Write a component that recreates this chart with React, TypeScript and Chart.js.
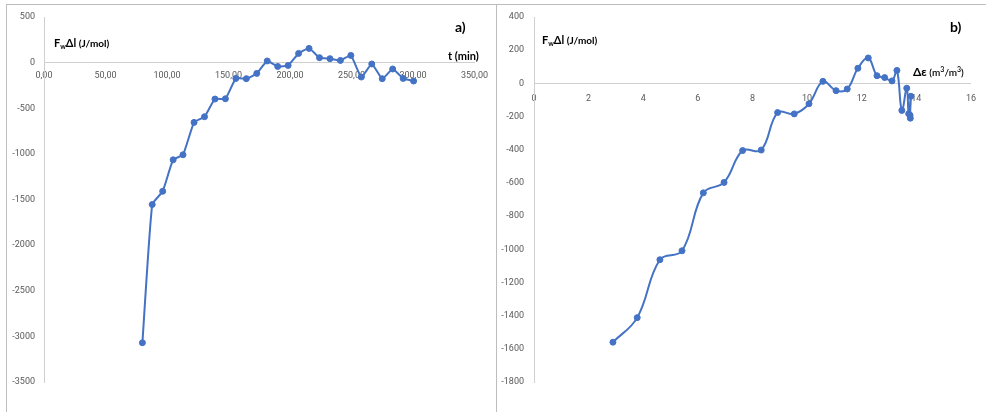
import React, { useEffect, useRef } from "react";
import { Chart, registerables } from "chart.js";
Chart.register(...registerables);

// Chart a): F_wΔl versus time (min)
const timeMin = [80, 88, 96.5, 105, 113, 122, 130.5, 139, 147.5, 156, 164.5, 173, 181.5, 190, 198.5, 207, 215.5, 224, 232.5, 241, 249.5, 258, 266.5, 275, 283.5, 292, 300.5];
const fwDlA = [-3070, -1555, -1410, -1065, -1010, -655, -593, -399, -396, -173, -176, -118, 18, -42, -31, 101, 156, 54, 43, 24, 79, -158, -15, -176, -70, -173, -202];

// Chart b): F_wΔl versus Δε (m3/m3)
const deltaEps = [2.89, 3.78, 4.61, 5.42, 6.2, 6.96, 7.64, 8.32, 8.92, 9.53, 10.07, 10.58, 11.06, 11.47, 11.86, 12.24, 12.56, 12.84, 13.11, 13.29, 13.47, 13.65, 13.72, 13.8, 13.77, 13.78];
const fwDlB = [-1560, -1412, -1063, -1009, -660, -597, -405, -402, -176, -184, -123, 12, -44, -34, 91, 153, 46, 35, 15, 78, -163, -29, -183, -78, -192, -210];

const xTicksA = { min: 0, max: 350, step: 50 };
const yTicksA = { min: -3500, max: 500, step: 500 };
const xTicksB = { min: 0, max: 16, step: 2 };
const yTicksB = { min: -1800, max: 400, step: 200 };

const BLUE = "#4472C4";
const TICK_COLOR = "#595959";
const AXIS_COLOR = "#cfcfcf";
const tickFont = { family: "Roboto", size: 9 };

function makeChart(
  canvas: HTMLCanvasElement,
  xs: number[],
  ys: number[],
  xT: { min: number; max: number; step: number },
  yT: { min: number; max: number; step: number },
  opts: { yWidth: number; yPad: number; xPad: number; right: number; tension: number; fmt: (v: number) => string }
) {
  return new Chart(canvas, {
    type: "line",
    data: {
      datasets: [
        {
          data: xs.map((x, i) => ({ x, y: ys[i] })),
          borderColor: BLUE,
          backgroundColor: BLUE,
          borderWidth: 2,
          pointRadius: 3,
          pointBorderWidth: 1,
          pointBackgroundColor: BLUE,
          pointBorderColor: BLUE,
          tension: opts.tension,
          fill: false,
        },
      ],
    },
    options: {
      animation: false,
      responsive: false,
      maintainAspectRatio: false,
      layout: { padding: { top: 17, bottom: 30, left: 0, right: opts.right } },
      plugins: { legend: { display: false }, tooltip: { enabled: false } },
      scales: {
        x: {
          type: "linear",
          min: xT.min,
          max: xT.max,
          position: { y: 0 },
          grid: { display: false, drawTicks: false },
          border: { display: true, color: AXIS_COLOR, width: 1 },
          ticks: {
            stepSize: xT.step,
            padding: opts.xPad,
            font: tickFont,
            color: TICK_COLOR,
            maxRotation: 0,
            autoSkip: false,
            callback: (v: any) => opts.fmt(Number(v)),
          },
        },
        y: {
          type: "linear",
          min: yT.min,
          max: yT.max,
          grid: { display: false, drawTicks: false },
          border: { display: true, color: AXIS_COLOR, width: 1 },
          ticks: {
            stepSize: yT.step,
            padding: opts.yPad,
            font: tickFont,
            color: TICK_COLOR,
            autoSkip: false,
            callback: (v: any) => String(Math.round(Number(v))),
          },
          afterFit: (s: any) => {
            s.width = opts.yWidth;
          },
        },
      },
    },
  } as any);
}

const boldLbl: React.CSSProperties = {
  position: "absolute",
  fontFamily: "Lato, 'Open Sans', sans-serif",
  fontWeight: 700,
  color: "#000",
  whiteSpace: "nowrap",
  lineHeight: 1,
  transform: "translateY(-50%)",
};

export default function App() {
  const refA = useRef<HTMLCanvasElement>(null);
  const refB = useRef<HTMLCanvasElement>(null);

  useEffect(() => {
    const a = makeChart(refA.current!, timeMin, fwDlA, xTicksA, yTicksA, {
      yWidth: 44,
      yPad: 9,
      xPad: 8,
      right: 20,
      tension: 0.15,
      fmt: (v) => v.toFixed(2).replace(".", ","),
    });
    const b = makeChart(refB.current!, deltaEps, fwDlB, xTicksB, yTicksB, {
      yWidth: 36,
      yPad: 10,
      xPad: 10,
      right: 11,
      tension: 0.4,
      fmt: (v) => String(v),
    });
    return () => {
      a.destroy();
      b.destroy();
    };
  }, []);

  return (
    <div style={{ position: "fixed", left: 0, top: 0, width: 986, height: 412, overflow: "hidden", background: "#fff" }}>
      <div style={{ position: "absolute", left: 6, top: 4, width: 1000, height: 430, border: "1px solid #bdbdbd" }} />
      <div style={{ position: "absolute", left: 496, top: 4, width: 1, height: 430, background: "#bdbdbd" }} />
      <canvas ref={refA} width={496} height={412} style={{ position: "absolute", left: 0, top: 0, width: 496, height: 412 }} />
      <canvas ref={refB} width={488} height={412} style={{ position: "absolute", left: 498, top: 0, width: 488, height: 412 }} />

      <div style={{ ...boldLbl, left: 54, top: 43, fontSize: 11 }}>
        F<sub style={{ fontSize: 7, verticalAlign: "-2px" }}>w</sub>Δl<span style={{ fontSize: 10 }}> (J/mol)</span>
      </div>
      <div style={{ ...boldLbl, left: 455, top: 27, fontSize: 14 }}>a)</div>
      <div style={{ ...boldLbl, left: 448, top: 55, fontSize: 11 }}>t (min)</div>

      <div style={{ ...boldLbl, left: 542, top: 40, fontSize: 11 }}>
        F<sub style={{ fontSize: 7, verticalAlign: "-2px" }}>w</sub>Δl<span style={{ fontSize: 10 }}> (J/mol)</span>
      </div>
      <div style={{ ...boldLbl, left: 950, top: 27, fontSize: 14 }}>b)</div>
      <div style={{ ...boldLbl, left: 913, top: 72, fontSize: 12 }}>
        Δε
        <span style={{ fontSize: 10, fontWeight: 600 }}>
          {" "}(m<sup style={{ fontSize: 7, verticalAlign: "4px" }}>3</sup>/m<sup style={{ fontSize: 7, verticalAlign: "4px" }}>3</sup>)
        </span>
      </div>
    </div>
  );
}
